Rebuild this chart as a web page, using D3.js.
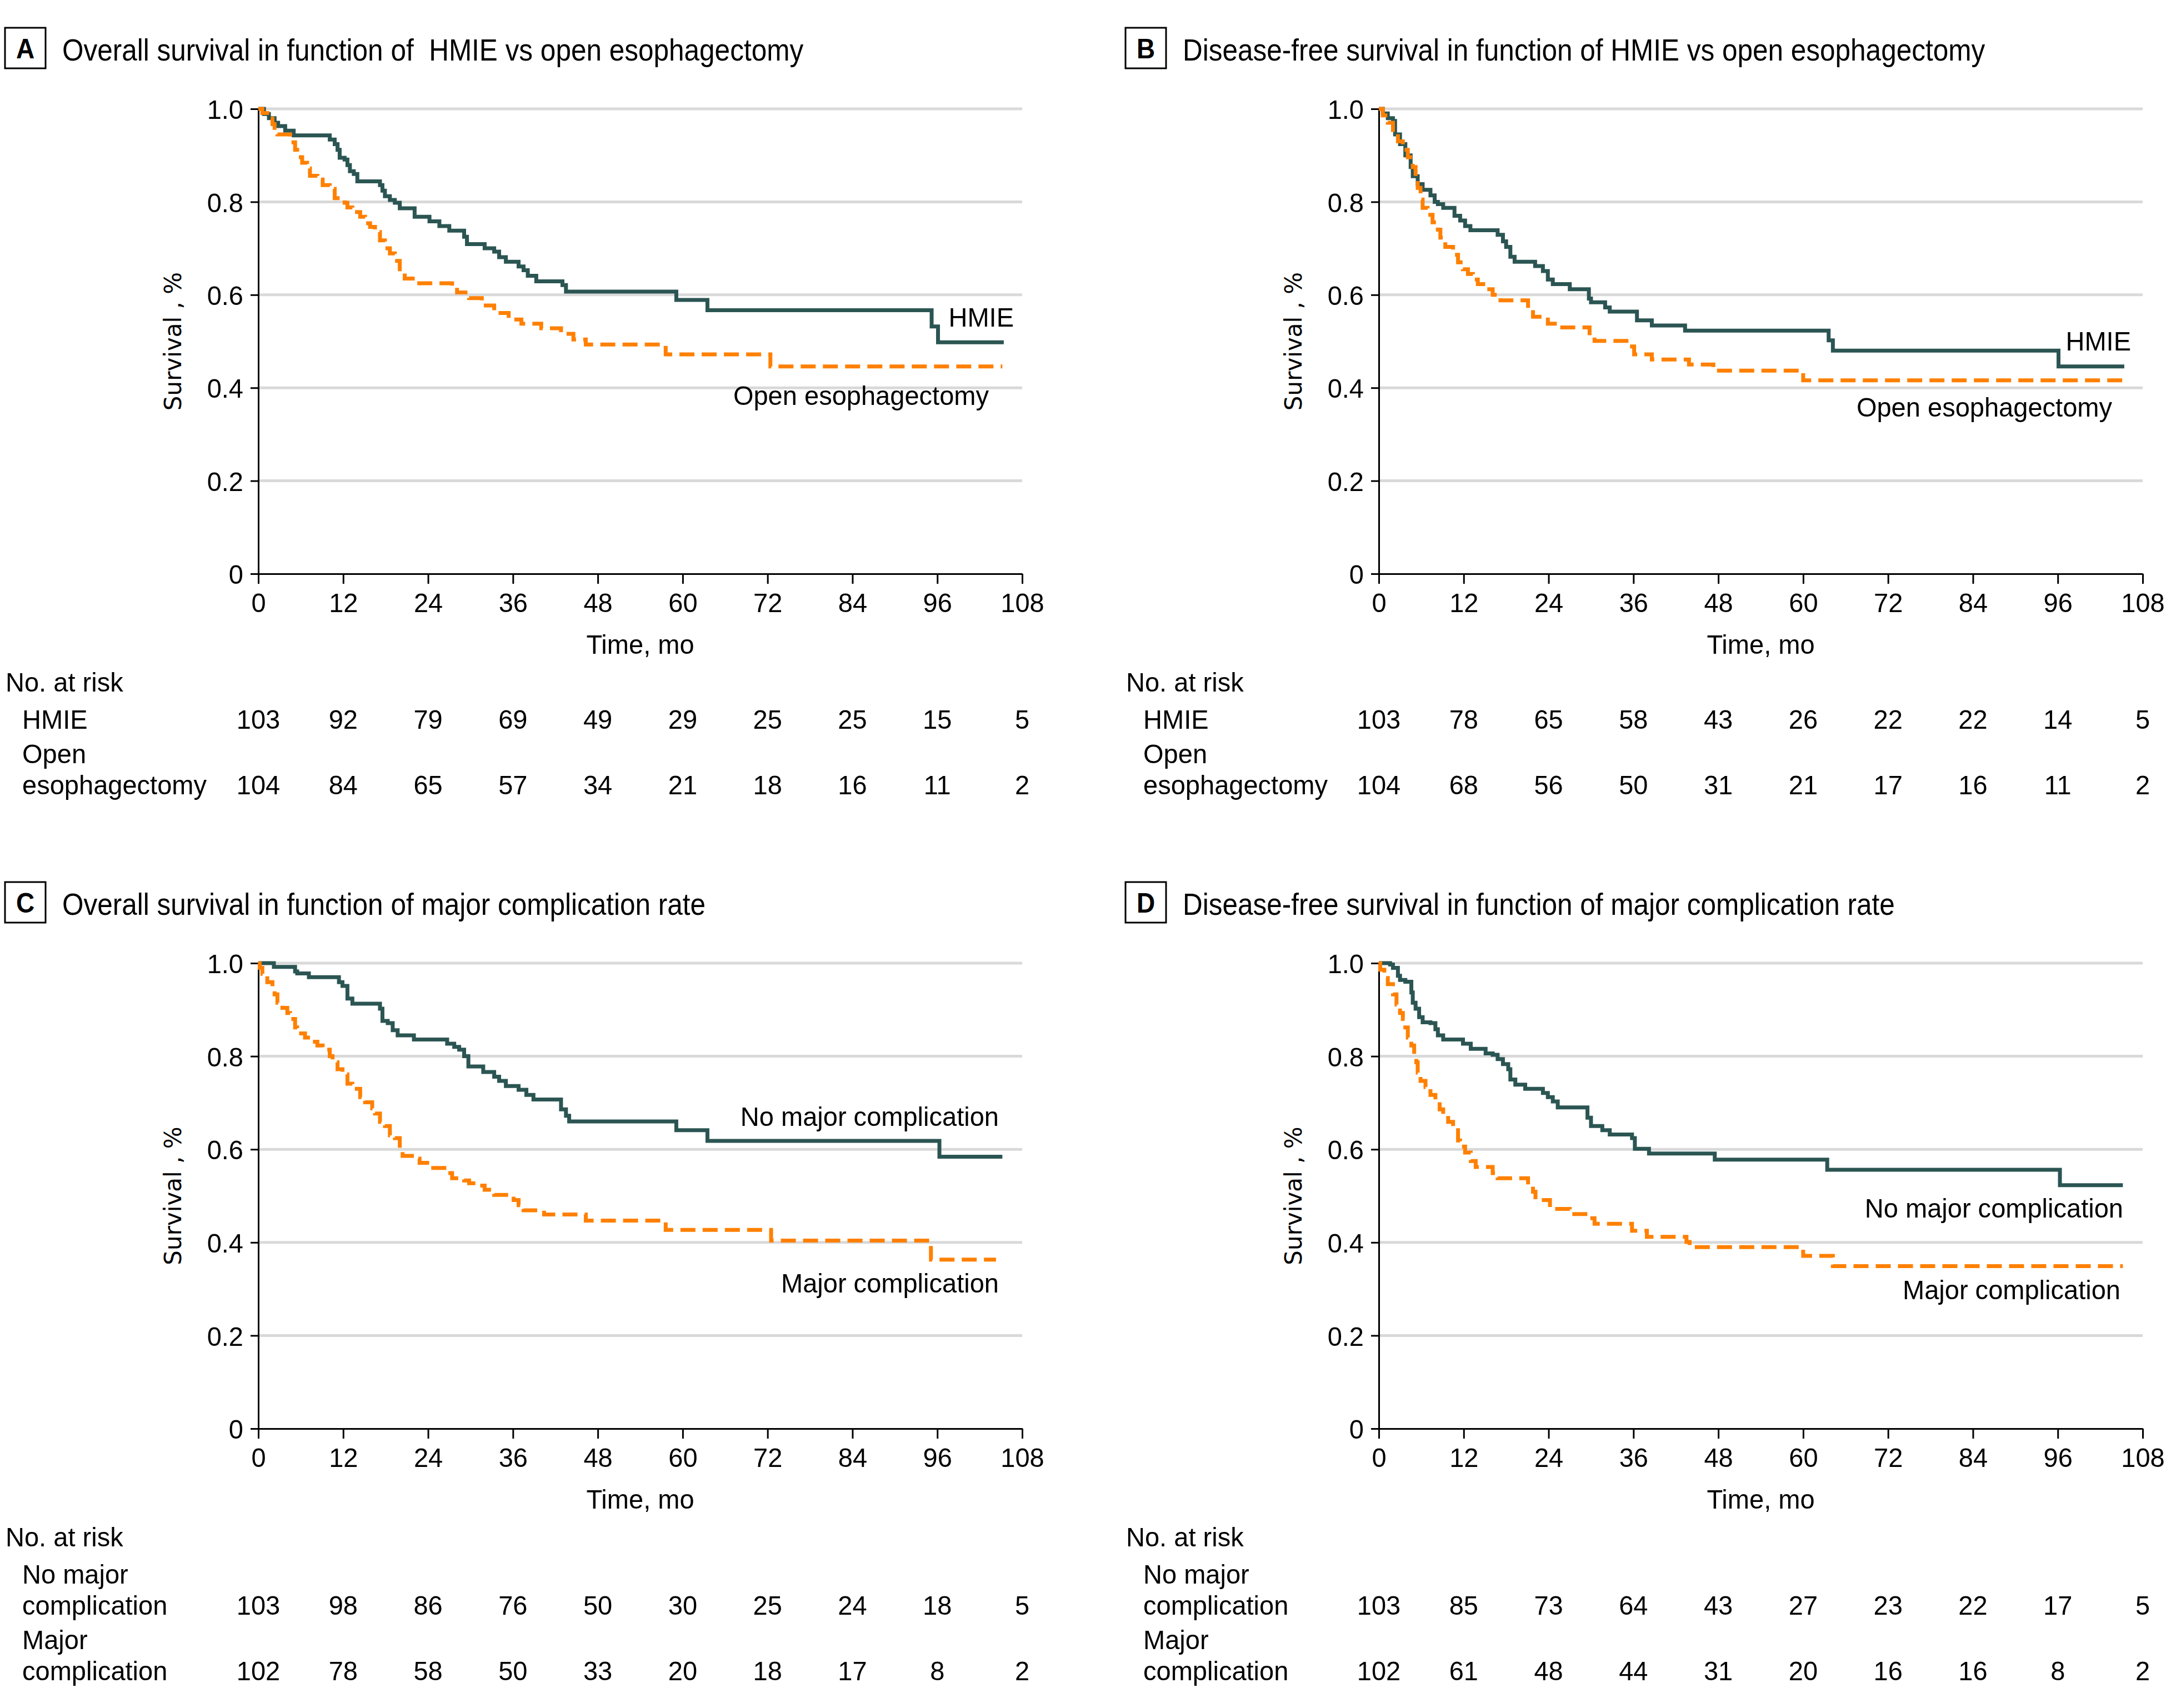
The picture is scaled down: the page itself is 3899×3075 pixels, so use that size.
<!DOCTYPE html>
<html>
<head>
<meta charset="utf-8">
<script src="https://cdn.jsdelivr.net/npm/d3@7/dist/d3.min.js"></script>
<style>
  body { margin: 0; background: #fff; }
  svg { display: block; }
  text { font-family: "Liberation Sans", Arial, sans-serif; fill: #000; }
</style>
</head>
<body>
<svg id="chart" width="3899" height="3075"></svg>
<script>
// axis ticks
var xTicks = [0, 12, 24, 36, 48, 60, 72, 84, 96, 108];
var yTicks = [0, 0.2, 0.4, 0.6, 0.8, 1.0];
var yTickLabels = ["0", "0.2", "0.4", "0.6", "0.8", "1.0"];

// panel titles
var panelLetters = ["A", "B", "C", "D"];
var panelTitles = [
  "Overall survival in function of  HMIE vs open esophagectomy",
  "Disease-free survival in function of HMIE vs open esophagectomy",
  "Overall survival in function of major complication rate",
  "Disease-free survival in function of major complication rate"
];

// kaplan-meier steps: [month, survival after the drop]
var kmA_hmie = [[0,1],[0.8,0.989],[1.5,0.98],[2.3,0.97],[2.8,0.963],[3.8,0.953],[5.0,0.943],[10.1,0.934],[10.8,0.924],[11.2,0.912],[11.5,0.895],[12.2,0.891],[12.6,0.879],[12.95,0.866],[13.5,0.86],[14.0,0.844],[17.2,0.836],[17.55,0.824],[17.9,0.812],[18.6,0.804],[19.3,0.798],[20.0,0.786],[22.1,0.768],[24.2,0.758],[25.6,0.748],[27.0,0.738],[29.1,0.725],[29.5,0.709],[32.0,0.70],[33.35,0.693],[34.05,0.681],[35.0,0.671],[36.8,0.661],[37.5,0.653],[38.1,0.641],[39.3,0.629],[43.0,0.621],[43.5,0.607],[59.1,0.589],[63.5,0.567],[95.2,0.532],[96.1,0.498]];
var kmA_open = [[0,1],[0.57,0.991],[1.27,0.979],[2.0,0.967],[2.3,0.959],[2.7,0.945],[4.5,0.928],[5.2,0.912],[5.5,0.896],[6.2,0.884],[6.9,0.872],[7.3,0.856],[8.35,0.848],[9.1,0.836],[10.1,0.828],[10.8,0.808],[12.2,0.798],[12.6,0.788],[13.3,0.778],[14.4,0.768],[15.1,0.754],[15.8,0.746],[16.5,0.735],[17.2,0.717],[17.9,0.70],[18.6,0.689],[19.3,0.673],[20.0,0.649],[20.7,0.635],[22.4,0.625],[27.4,0.615],[28.1,0.605],[29.8,0.593],[31.6,0.577],[33.35,0.561],[35.4,0.547],[37.2,0.538],[40.0,0.528],[42.8,0.516],[44.55,0.504],[46.3,0.493],[57.6,0.472],[72.4,0.446]];
var endA = [105.4, 105.2];

var kmB_hmie = [[0,1],[0.57,0.99],[1.27,0.98],[2.0,0.974],[2.3,0.945],[3.0,0.924],[3.75,0.90],[4.5,0.875],[4.8,0.855],[5.5,0.838],[6.2,0.826],[7.3,0.814],[7.9,0.80],[8.35,0.795],[9.1,0.787],[10.7,0.77],[11.5,0.76],[12.2,0.748],[12.95,0.739],[16.8,0.729],[17.55,0.715],[18.0,0.703],[18.6,0.682],[19.2,0.671],[22.1,0.662],[23.2,0.651],[23.9,0.633],[24.6,0.623],[27.0,0.612],[29.7,0.592],[30.0,0.584],[32.0,0.573],[32.65,0.564],[36.5,0.545],[38.6,0.534],[43.3,0.523],[63.6,0.502],[64.2,0.48],[96.1,0.446]];
var kmB_open = [[0,1],[0.57,0.986],[1.27,0.97],[2.0,0.949],[2.7,0.93],[3.4,0.912],[4.1,0.896],[4.8,0.875],[5.2,0.855],[5.5,0.83],[5.9,0.805],[6.2,0.787],[6.9,0.772],[7.6,0.756],[8.35,0.74],[8.7,0.723],[9.4,0.703],[10.5,0.686],[11.2,0.67],[11.9,0.655],[12.6,0.645],[13.3,0.633],[14.0,0.623],[15.1,0.612],[16.1,0.60],[17.2,0.588],[21.1,0.567],[21.8,0.553],[23.2,0.547],[23.9,0.538],[25.3,0.53],[29.8,0.51],[30.5,0.501],[35.8,0.489],[36.1,0.472],[38.6,0.461],[43.85,0.45],[47.3,0.437],[60.0,0.416]];
var endB = [105.4, 105.2];

var kmC_nomajor = [[0,1],[2.2,0.992],[5.2,0.982],[5.5,0.978],[7.15,0.97],[11.4,0.959],[11.9,0.951],[12.6,0.924],[13.3,0.913],[17.2,0.902],[17.55,0.876],[18.3,0.871],[19.0,0.856],[19.7,0.845],[22.0,0.836],[26.7,0.827],[27.7,0.82],[28.4,0.814],[29.1,0.80],[29.7,0.778],[31.8,0.766],[33.35,0.756],[34.05,0.747],[35.0,0.736],[36.8,0.728],[37.9,0.717],[38.9,0.707],[42.8,0.686],[43.5,0.672],[43.95,0.66],[59.1,0.641],[63.5,0.618],[96.3,0.584]];
var kmC_major = [[0,1],[0.2,0.99],[0.57,0.977],[1.27,0.959],[2.0,0.946],[2.3,0.933],[2.7,0.915],[3.4,0.904],[4.1,0.893],[4.5,0.88],[5.2,0.862],[5.5,0.849],[6.6,0.84],[7.3,0.831],[8.35,0.823],[9.1,0.814],[10.1,0.80],[10.5,0.787],[11.2,0.772],[11.9,0.761],[12.6,0.741],[13.3,0.73],[14.4,0.712],[15.1,0.701],[16.1,0.688],[16.5,0.677],[17.2,0.659],[17.9,0.65],[18.6,0.63],[19.3,0.624],[20.0,0.602],[20.4,0.586],[22.1,0.58],[22.8,0.571],[24.2,0.56],[26.3,0.549],[27.4,0.538],[29.1,0.533],[29.8,0.527],[31.3,0.522],[32.0,0.513],[33.35,0.502],[36.1,0.491],[36.8,0.48],[37.5,0.469],[40.4,0.46],[46.3,0.447],[57.6,0.427],[72.5,0.404],[95.1,0.363]];
var endC = [105.2, 104.3];

var kmD_nomajor = [[0,1],[1.6,0.997],[2.0,0.99],[2.7,0.973],[3.0,0.964],[3.75,0.96],[4.6,0.937],[4.8,0.915],[5.2,0.902],[5.7,0.884],[6.2,0.873],[7.3,0.871],[8.0,0.858],[8.35,0.845],[9.1,0.836],[11.9,0.827],[13.0,0.816],[15.1,0.806],[16.1,0.803],[16.8,0.794],[17.55,0.783],[18.3,0.772],[18.6,0.75],[19.3,0.739],[20.7,0.73],[23.2,0.721],[23.9,0.712],[24.6,0.703],[25.3,0.69],[29.5,0.668],[30.0,0.65],[31.6,0.641],[32.65,0.632],[35.8,0.624],[36.2,0.601],[38.2,0.591],[47.5,0.578],[63.4,0.556],[96.3,0.523]];
var kmD_major = [[0,1],[0.2,0.986],[0.78,0.968],[1.27,0.955],[2.0,0.933],[2.5,0.911],[3.0,0.893],[3.4,0.88],[3.75,0.862],[4.1,0.84],[4.6,0.823],[5.0,0.805],[5.3,0.787],[5.5,0.765],[5.9,0.747],[6.6,0.734],[7.3,0.717],[8.0,0.703],[8.6,0.686],[9.1,0.672],[9.8,0.659],[10.5,0.641],[11.2,0.619],[11.5,0.606],[12.2,0.593],[13.0,0.575],[13.7,0.562],[16.1,0.549],[16.8,0.538],[21.1,0.52],[21.8,0.509],[22.15,0.491],[24.2,0.472],[27.0,0.461],[29.8,0.452],[30.5,0.44],[35.8,0.425],[37.9,0.412],[43.5,0.401],[43.95,0.39],[60.0,0.371],[64.2,0.349]];
var endD = [105.2, 105.2];

// numbers at risk
var riskA_hmie = [103, 92, 79, 69, 49, 29, 25, 25, 15, 5];
var riskA_open = [104, 84, 65, 57, 34, 21, 18, 16, 11, 2];
var riskB_hmie = [103, 78, 65, 58, 43, 26, 22, 22, 14, 5];
var riskB_open = [104, 68, 56, 50, 31, 21, 17, 16, 11, 2];
var riskC_nomajor = [103, 98, 86, 76, 50, 30, 25, 24, 18, 5];
var riskC_major = [102, 78, 58, 50, 33, 20, 18, 17, 8, 2];
var riskD_nomajor = [103, 85, 73, 64, 43, 27, 23, 22, 17, 5];
var riskD_major = [102, 61, 48, 44, 31, 20, 16, 16, 8, 2];

var groupsHmie = [["HMIE"], ["Open", "esophagectomy"]];
var groupsCompl = [["No major", "complication"], ["Major", "complication"]];
var curveLabelsHmie = ["HMIE", "Open esophagectomy"];
var curveLabelsCompl = ["No major complication", "Major complication"];

var TEAL = "#2b5553", ORANGE = "#ff8000", GRID = "#d9d9d9";
var FS = 49, SX = 0.96;       // body text size and horizontal squeeze (condensed look)
var TFS = 55, TSX = 0.9;      // titles

// layout of the four panels (pixels)
var panels = [
  {left: 465, right: 1840, top: 196, bottom: 1033, boxX: 9, labX: 10, indX: 40,
   series: [kmA_hmie, kmA_open], ends: endA, risk: [riskA_hmie, riskA_open], groups: groupsHmie,
   labels: curveLabelsHmie, labPos: [[1825, 588], [1780, 729]]},
  {left: 2482, right: 3857, top: 196, bottom: 1033, boxX: 2026, labX: 2027, indX: 2058,
   series: [kmB_hmie, kmB_open], ends: endB, risk: [riskB_hmie, riskB_open], groups: groupsHmie,
   labels: curveLabelsHmie, labPos: [[3836, 631], [3802, 750]]},
  {left: 465, right: 1840, top: 1734, bottom: 2572, boxX: 9, labX: 10, indX: 40,
   series: [kmC_nomajor, kmC_major], ends: endC, risk: [riskC_nomajor, riskC_major], groups: groupsCompl,
   labels: curveLabelsCompl, labPos: [[1798, 2027], [1798, 2327]]},
  {left: 2482, right: 3857, top: 1734, bottom: 2572, boxX: 2026, labX: 2027, indX: 2058,
   series: [kmD_nomajor, kmD_major], ends: endD, risk: [riskD_nomajor, riskD_major], groups: groupsCompl,
   labels: curveLabelsCompl, labPos: [[3822, 2192], [3817, 2339]]}
];

// squeezed text placed at (x, y)
function addText(parent, x, y, str, size, sx, anchor) {
  return parent.append("text")
    .attr("transform", "translate(" + x + "," + y + ") scale(" + sx + ",1)")
    .attr("font-size", size)
    .attr("text-anchor", anchor || "start")
    .style("white-space", "pre")
    .text(str);
}

var svg = d3.select("#chart");
svg.append("rect").attr("width", 3899).attr("height", 3075).attr("fill", "#fff");

panels.forEach(function(p, i) {
  var g = svg.append("g");
  var x = d3.scaleLinear().domain([0, 108]).range([p.left, p.right]);
  var y = d3.scaleLinear().domain([0, 1]).range([p.bottom, p.top]);

  // letter box + title
  var boxTop = p.top - 146;
  g.append("rect")
    .attr("x", p.boxX).attr("y", boxTop).attr("width", 73).attr("height", 73)
    .attr("fill", "none").attr("stroke", "#000").attr("stroke-width", 3);
  addText(g, p.boxX + 36.5, boxTop + 55, panelLetters[i], 50, 0.92, "middle")
    .attr("font-weight", "bold");
  addText(g, p.boxX + 103, boxTop + 59, panelTitles[i], TFS, TSX);

  // grid
  g.append("g").selectAll("line")
    .data(yTicks.filter(function(d) { return d > 0; }))
    .join("line")
    .attr("x1", x(0)).attr("x2", x(108))
    .attr("y1", function(d) { return y(d); }).attr("y2", function(d) { return y(d); })
    .attr("stroke", GRID).attr("stroke-width", 5);

  // axes
  var ax = g.append("g").attr("transform", "translate(0," + p.bottom + ")")
    .call(d3.axisBottom(x).tickValues(xTicks).tickSize(18).tickSizeOuter(0));
  var ay = g.append("g").attr("transform", "translate(" + p.left + ",0)")
    .call(d3.axisLeft(y).tickValues(yTicks).tickSize(14).tickSizeOuter(0)
      .tickFormat(function(d, k) { return yTickLabels[k]; }));
  [ax, ay].forEach(function(a) {
    a.attr("font-family", null).attr("font-size", null);
    a.select(".domain").attr("stroke", "#000").attr("stroke-width", 3);
    a.selectAll(".tick line").attr("stroke", "#000").attr("stroke-width", 3);
    a.selectAll("text").attr("font-size", FS).attr("fill", "#000");
  });
  ax.selectAll("text").attr("y", null).attr("dy", null)
    .attr("transform", "translate(0,69) scale(" + SX + ",1)");
  ay.selectAll("text").attr("x", null).attr("dy", "0.36em")
    .attr("transform", "translate(-27,0) scale(" + SX + ",1)");

  // curves
  var line = d3.line()
    .x(function(d) { return x(d[0]); })
    .y(function(d) { return y(d[1]); })
    .curve(d3.curveStepAfter);
  p.series.forEach(function(s, k) {
    var pts = s.concat([[p.ends[k], s[s.length - 1][1]]]);
    g.append("path")
      .attr("d", line(pts))
      .attr("fill", "none")
      .attr("stroke", k === 0 ? TEAL : ORANGE)
      .attr("stroke-width", 7)
      .attr("stroke-dasharray", k === 0 ? null : "27,13");
  });

  // curve labels
  p.labels.forEach(function(t, k) {
    addText(g, p.labPos[k][0], p.labPos[k][1], t, FS, SX, "end");
  });

  // axis titles
  g.append("text")
    .attr("transform", "translate(" + (p.left - 154) + "," + ((p.top + p.bottom) / 2) + ") rotate(-90)")
    .attr("text-anchor", "middle").attr("dy", "0.36em")
    .attr("font-family", "DejaVu Sans, sans-serif").attr("font-size", 42)
    .style("font-family", "DejaVu Sans, sans-serif")
    .text("Survival , %");
  addText(g, x(54), p.bottom + 144, "Time, mo", FS, SX, "middle");

  // risk table
  addText(g, p.labX, p.bottom + 212, "No. at risk", FS, SX);
  var base = p.bottom + 279;
  p.groups.forEach(function(lines, r) {
    if (r > 0) base += 62;
    lines.forEach(function(t, l) {
      if (l > 0) base += 56;
      addText(g, p.indX, base, t, FS, SX);
    });
    var rowY = base;
    p.risk[r].forEach(function(d, k) {
      addText(g, x(xTicks[k]), rowY, String(d), FS, SX, "middle");
    });
  });
});
</script>
</body>
</html>
